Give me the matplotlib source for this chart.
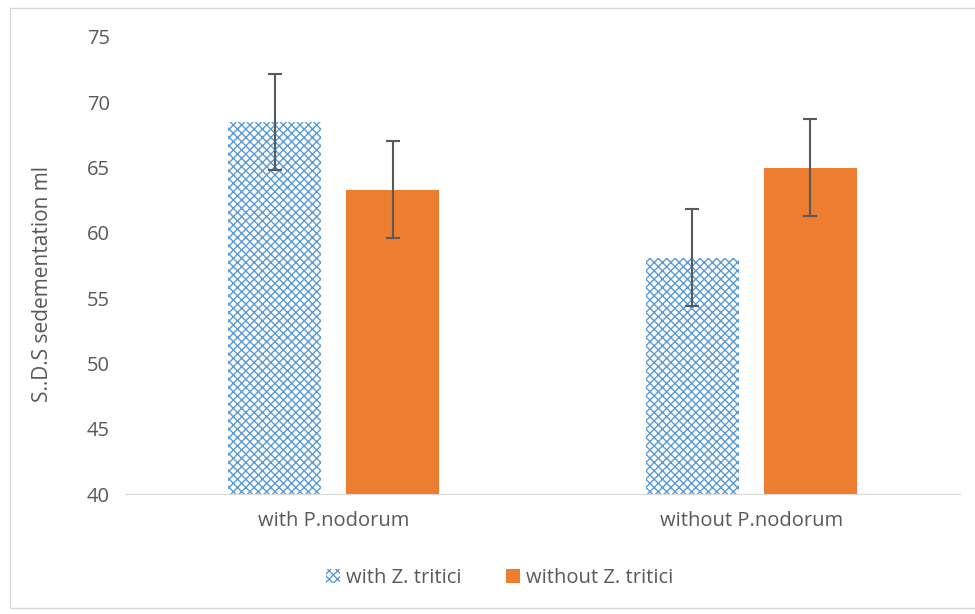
import matplotlib
matplotlib.use("Agg")
import matplotlib.pyplot as plt
from matplotlib.patches import Rectangle, Patch
import numpy as np

categories = ["with P.nodorum", "without P.nodorum"]
series_names = ["with Z. tritici", "without Z. tritici"]
with_zt = [68.5, 58.1]
without_zt = [63.3, 65.0]
err_with = [3.7, 3.7]
err_without = [3.7, 3.7]
yticks = [40, 45, 50, 55, 60, 65, 70, 75]

plt.rcParams['font.family'] = ['Open Sans', 'DejaVu Sans']
plt.rcParams['hatch.linewidth'] = 1.0
txt = '#595959'
blue = '#5B9BD5'
orange = '#ED7D31'
fs = 14.5

fig = plt.figure(figsize=(9.75, 6.14), dpi=100)
fig.patches.append(Rectangle((10/975, 6/614), 1.2, 1 - 14/614, transform=fig.transFigure,
                             fill=False, edgecolor='#D9D9D9', linewidth=1.0))
ax = fig.add_axes([125/975, 1-494/614, 835/975, (494-37)/614])

x = np.arange(len(categories))
w = 0.223
off = 0.141
ax.bar(x - off, with_zt, w, facecolor='white', edgecolor=blue, linewidth=0, hatch='xxxx')
ax.bar(x + off, without_zt, w, color=orange)
ax.errorbar(x - off, with_zt, yerr=err_with, fmt='none', ecolor=txt, elinewidth=1.5, capsize=5, capthick=1.5)
ax.errorbar(x + off, without_zt, yerr=err_without, fmt='none', ecolor=txt, elinewidth=1.5, capsize=5, capthick=1.5)

ax.set_ylim(40, 75)
ax.set_xlim(-0.5, 1.5)
ax.set_yticks(yticks)
ax.set_xticks(x)
ax.set_xticklabels(categories)
for s in ['top', 'right', 'left']:
    ax.spines[s].set_visible(False)
ax.spines['bottom'].set_color('#D9D9D9')
ax.tick_params(axis='both', length=0, colors=txt, labelsize=fs)
ax.tick_params(axis='y', pad=11)
ax.tick_params(axis='x', pad=12)
ax.set_ylabel("S..D.S sedementation ml", color=txt, fontsize=15)
ax.yaxis.set_label_coords(-0.086, 0.46)

handles = [Patch(facecolor='white', edgecolor=blue, linewidth=0, hatch='xxxx'),
           Patch(facecolor=orange)]
fig.legend(handles, series_names, loc='center', bbox_to_anchor=(500/975, 1-578/614), ncol=2,
           frameon=False, fontsize=fs, labelcolor=txt, handlelength=0.7, handleheight=0.7,
           columnspacing=2.2, handletextpad=0.3)

fig.savefig("out.png", dpi=100)
